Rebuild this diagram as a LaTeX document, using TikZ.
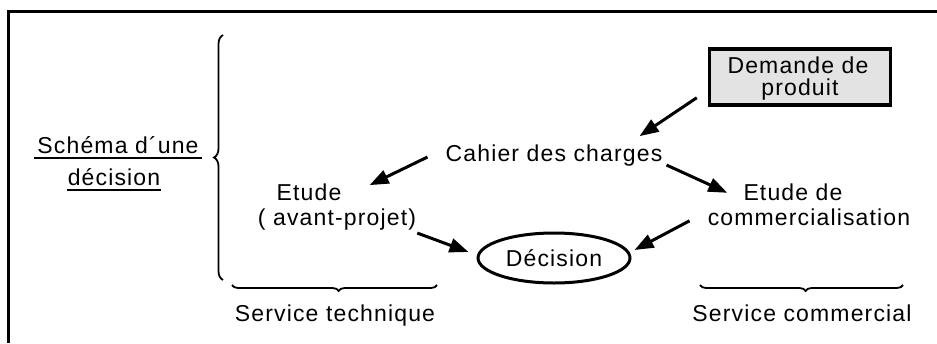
\documentclass[tikz,border=0pt]{standalone}
\usepackage{fontspec}
\setmainfont{Liberation Sans}[LetterSpace=5]
\usetikzlibrary{arrows.meta,decorations.pathreplacing,calc,shapes.geometric}
\tikzset{
  lbl/.style={inner sep=0pt,anchor=base,font=\fontsize{23}{27}\selectfont},
  arr/.style={line width=3pt,-{Triangle[length=19pt,width=14pt]}},
  brc/.style={line width=1.8pt,decorate,decoration={brace,amplitude=9pt}},
  hbrc/.style={line width=1.8pt,decorate,decoration={brace,amplitude=6pt,aspect=0.48}},
  frame/.style={line width=3pt},
  uline/.style={line width=2pt}
}
\begin{document}
\begin{tikzpicture}[x=1pt,y=-1pt]
\useasboundingbox (0,0) rectangle (937,343);
% frame
\draw[frame] (8,343) -- (8,11) -- (937,11);
% left title
\node[lbl] (sch) at (118,153) {Schéma d´une};
\node[lbl] (dcs) at (114,185) {décision};
\draw[uline] ($(sch.base west)+(-3,5)$) -- ($(sch.base east)+(3,5)$);
\draw[uline] ($(dcs.base west)+(-1,5)$) -- ($(dcs.base east)+(1,5)$);
% big brace
\draw[brc] (223,280) -- (223,35);
% demande box
\node[draw,line width=3.5pt,fill=gray!22,minimum width=181pt,minimum height=56pt,inner sep=0pt] (dem) at (800,77) {};
\node[lbl] (dem1) at (798,73) {Demande de};
\node[lbl] (dem2) at (800,95) {produit};
% main nodes
\node[lbl] (cah) at (554,161) {Cahier des charges};
\node[lbl] (et1) at (309,200) {Etude};
\node[lbl] (av) at (337,225) {( avant-projet)};
\node[lbl] (et2) at (793,200) {Etude de};
\node[lbl] (com) at (809,225) {commercialisation};
\node[draw,ellipse,line width=3pt,minimum width=152pt,minimum height=50pt,inner sep=0pt,font=\fontsize{23}{27}\selectfont] (dec) at (554,258) {Décision};
% service labels
\node[lbl] (st) at (335,321) {Service technique};
\node[lbl] (sc) at (802,321) {Service commercial};
\draw[hbrc] (437,285) -- (232,285);
\draw[hbrc] (903,285) -- (700,285);
% arrows
\draw[arr] ($(dem.south west)+(-11,-9)$) -- ($(cah.north east)+(-23,-8)$);
\draw[arr] ($(cah.west)+(-18,2)$) -- ($(et1.north east)+(28,2)$);
\draw[arr] ($(cah.east)+(4,10)$) -- ($(et2.west)+(-16,1)$);
\draw[arr] ($(av.east)+(1,14)$) -- ($(dec.west)+(-8,-6)$);
\draw[arr] ($(com.west)+(-18,4)$) -- ($(dec.east)+(3,-8)$);
\end{tikzpicture}
\end{document}
